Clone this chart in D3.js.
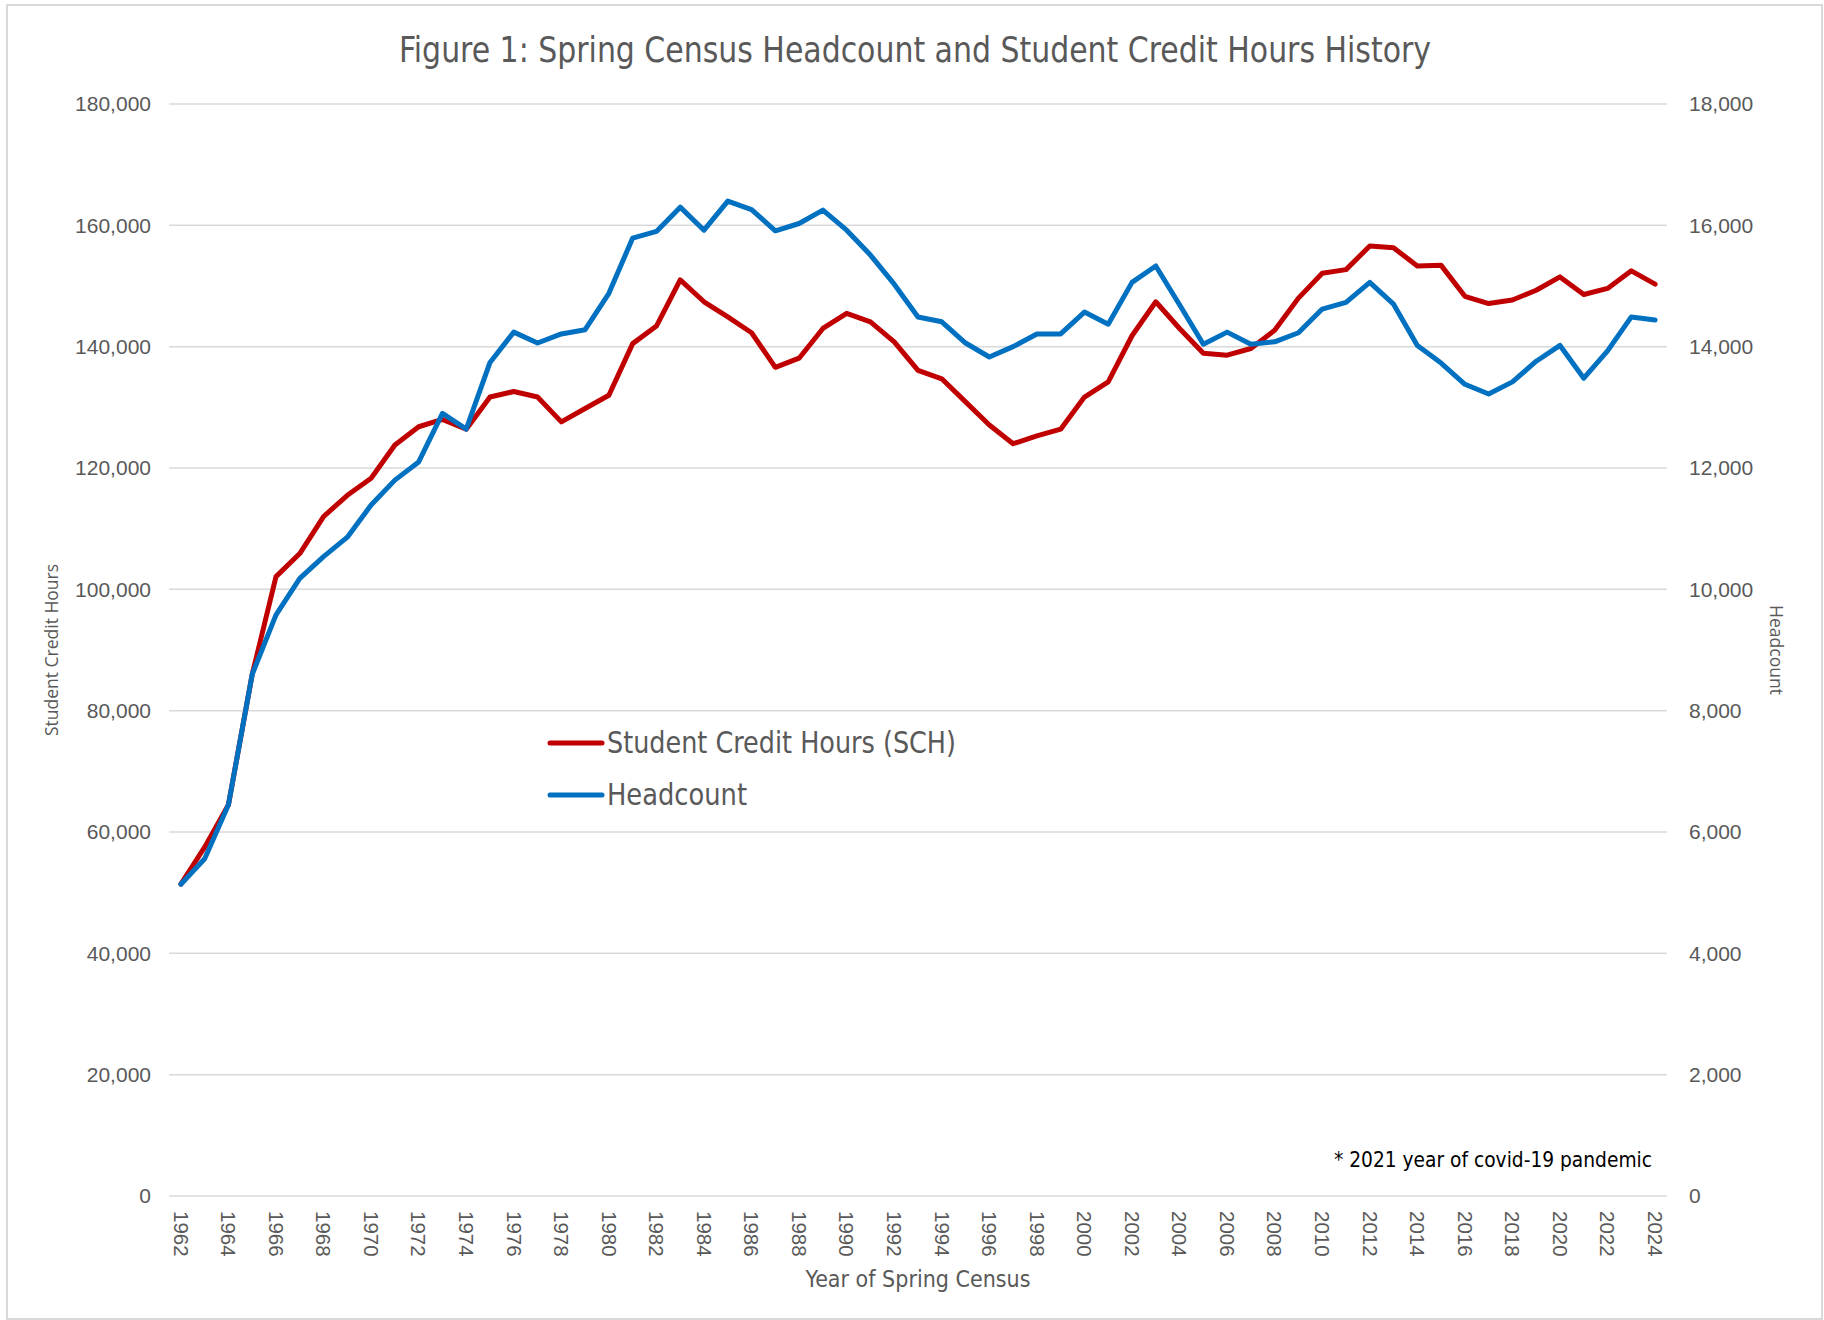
<!DOCTYPE html>
<html>
<head>
<meta charset="utf-8">
<script src="https://cdn.jsdelivr.net/npm/d3@7"></script>
<style>
  body { margin: 0; background: #fff; }
  svg { display: block; }
</style>
</head>
<body>
<svg id="chart" width="1824" height="1320"></svg>
<script>
// spring census years
var years = [1962, 1963, 1964, 1965, 1966, 1967, 1968, 1969, 1970, 1971, 1972, 1973, 1974, 1975, 1976, 1977, 1978, 1979,
  1980, 1981, 1982, 1983, 1984, 1985, 1986, 1987, 1988, 1989, 1990, 1991, 1992, 1993, 1994, 1995, 1996, 1997, 1998, 1999,
  2000, 2001, 2002, 2003, 2004, 2005, 2006, 2007, 2008, 2009, 2010, 2011, 2012, 2013, 2014, 2015, 2016, 2017, 2018, 2019,
  2020, 2021, 2022, 2023, 2024];

// student credit hours (left axis)
var sch = [51400, 57500, 64500, 86000, 102100, 105900, 112000, 115500, 118300, 123800, 126800, 128000, 126400, 131700,
  132600, 131700, 127600, 129800, 132000, 140500, 143400, 151000, 147400, 144900, 142300, 136600, 138100, 143000,
  145500, 144100, 140800, 136100, 134700, 130900, 127100, 124000, 125300, 126400, 131700, 134200, 141800, 147400,
  143000, 138900, 138600, 139700, 142700, 148000, 152100, 152700, 156600, 156300, 153300, 153400, 148300, 147100,
  147700, 149300, 151500, 148600, 149600, 152500, 150300];

// headcount (right axis)
var headcount = [5140, 5560, 6450, 8600, 9580, 10180, 10540, 10860, 11390, 11800, 12100, 12900, 12640, 13740, 14240,
  14060, 14210, 14280, 14880, 15790, 15900, 16300, 15920, 16400, 16260, 15910, 16030, 16250, 15920, 15510, 15030,
  14490, 14410, 14060, 13830, 14000, 14210, 14210, 14570, 14370, 15060, 15330, 14690, 14040, 14240, 14040, 14080,
  14230, 14620, 14730, 15060, 14700, 14020, 13730, 13380, 13220, 13420, 13760, 14020, 13480, 13930, 14490, 14440];

var leftTicks = [0, 20000, 40000, 60000, 80000, 100000, 120000, 140000, 160000, 180000];
var rightTicks = [0, 2000, 4000, 6000, 8000, 10000, 12000, 14000, 16000, 18000];
var yearTicks = [1962, 1964, 1966, 1968, 1970, 1972, 1974, 1976, 1978, 1980, 1982, 1984, 1986, 1988, 1990, 1992, 1994,
  1996, 1998, 2000, 2002, 2004, 2006, 2008, 2010, 2012, 2014, 2016, 2018, 2020, 2022, 2024];

var seriesNames = ["Student Credit Hours (SCH)", "Headcount"];
var seriesColors = ["#C00000", "#0070C0"];

var svg = d3.select("#chart");
var gray = "#595959";
var narrow = "'Liberation Sans Narrow', 'DejaVu Sans Condensed', 'Liberation Sans', sans-serif";
var plain = "'Liberation Sans', Arial, sans-serif";

var plotLeft = 169, plotRight = 1667, plotTop = 104, plotBottom = 1196;

var x = d3.scalePoint().domain(years).range([plotLeft, plotRight]).padding(0.5);
var yL = d3.scaleLinear().domain([0, 180000]).range([plotBottom, plotTop]);
var yR = d3.scaleLinear().domain([0, 18000]).range([plotBottom, plotTop]);

// outer frame
svg.append("rect").attr("x", 7).attr("y", 5).attr("width", 1815).attr("height", 1314)
  .attr("fill", "none").attr("stroke", "#D9D9D9").attr("stroke-width", 2);

// title
svg.append("text").attr("x", 915).attr("y", 62).attr("text-anchor", "middle")
  .attr("font-family", narrow).attr("font-size", 36).attr("fill", gray)
  .attr("textLength", 1032).attr("lengthAdjust", "spacingAndGlyphs")
  .text("Figure 1: Spring Census Headcount and Student Credit Hours History");

// gridlines
svg.append("g").selectAll("line").data(leftTicks).join("line")
  .attr("x1", plotLeft).attr("x2", plotRight)
  .attr("y1", function(d){ return yL(d); }).attr("y2", function(d){ return yL(d); })
  .attr("stroke", "#D9D9D9").attr("stroke-width", 1.5);

// left axis
var axL = svg.append("g").attr("transform", "translate(" + (plotLeft - 18) + ",0)")
  .call(d3.axisLeft(yL).tickValues(leftTicks).tickSize(0).tickPadding(0).tickFormat(d3.format(",")));
axL.select(".domain").remove();
axL.selectAll("text").attr("font-family", plain).attr("font-size", 21).attr("fill", gray);

// right axis
var axR = svg.append("g").attr("transform", "translate(" + (plotRight + 22) + ",0)")
  .call(d3.axisRight(yR).tickValues(rightTicks).tickSize(0).tickPadding(0).tickFormat(d3.format(",")));
axR.select(".domain").remove();
axR.selectAll("text").attr("font-family", plain).attr("font-size", 21).attr("fill", gray);

// x axis labels, rotated
svg.append("g").selectAll("text").data(yearTicks).join("text")
  .attr("transform", function(d){ return "translate(" + x(d) + ",1211) rotate(90)"; })
  .attr("dy", "0.35em")
  .attr("font-family", plain).attr("font-size", 20.5).attr("fill", gray)
  .text(function(d){ return d; });

// axis titles
svg.append("text").attr("transform", "translate(918,1287)").attr("text-anchor", "middle")
  .attr("font-family", narrow).attr("font-size", 23).attr("fill", gray)
  .text("Year of Spring Census");
svg.append("text").attr("transform", "translate(52,650) rotate(-90)").attr("text-anchor", "middle")
  .attr("dy", "0.35em")
  .attr("font-family", "'Open Sans', sans-serif").attr("font-size", 17.5).attr("fill", gray)
  .text("Student Credit Hours");
svg.append("text").attr("transform", "translate(1776,650) rotate(90)").attr("text-anchor", "middle")
  .attr("dy", "0.35em")
  .attr("font-family", "'Open Sans', sans-serif").attr("font-size", 17.5).attr("fill", gray)
  .text("Headcount");

// lines
var lineL = d3.line().x(function(d, i){ return x(years[i]); }).y(function(d){ return yL(d); });
var lineR = d3.line().x(function(d, i){ return x(years[i]); }).y(function(d){ return yR(d); });

svg.append("path").datum(sch).attr("d", lineL)
  .attr("fill", "none").attr("stroke", seriesColors[0]).attr("stroke-width", 5)
  .attr("stroke-linejoin", "round").attr("stroke-linecap", "round");
svg.append("path").datum(headcount).attr("d", lineR)
  .attr("fill", "none").attr("stroke", seriesColors[1]).attr("stroke-width", 5)
  .attr("stroke-linejoin", "round").attr("stroke-linecap", "round");

// legend
var legend = svg.append("g").selectAll("g").data(seriesNames).join("g")
  .attr("transform", function(d, i){ return "translate(0," + (743 + i * 52) + ")"; });
legend.append("line").attr("x1", 550).attr("x2", 602).attr("y1", 0).attr("y2", 0)
  .attr("stroke", function(d, i){ return seriesColors[i]; }).attr("stroke-width", 5)
  .attr("stroke-linecap", "round");
legend.append("text").attr("x", 607).attr("y", 10)
  .attr("font-family", narrow).attr("font-size", 30).attr("fill", gray)
  .attr("textLength", function(d, i){ return i === 0 ? 349 : 140; })
  .attr("lengthAdjust", "spacingAndGlyphs")
  .text(function(d){ return d; });

// footnote
svg.append("text").attr("x", 1652).attr("y", 1167).attr("text-anchor", "end")
  .attr("font-family", narrow).attr("font-size", 22).attr("fill", "#000")
  .attr("textLength", 318).attr("lengthAdjust", "spacingAndGlyphs")
  .text("* 2021 year of covid-19 pandemic");
</script>
</body>
</html>
